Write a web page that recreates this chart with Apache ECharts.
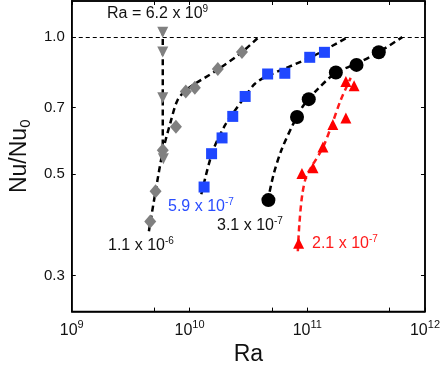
<!DOCTYPE html>
<html>
<head>
<meta charset="utf-8">
<style>
  html, body { margin: 0; padding: 0; background: #fff; }
  #chart { width: 443px; height: 371px; }
</style>
<script src="https://cdn.jsdelivr.net/npm/echarts@6/dist/echarts.min.js"></script>
</head>
<body>
<div id="chart"></div>
<script>
// measured points [Ra, Nu/Nu0]
const diamond = [[4.64e9, 0.394], [5.15e9, 0.459], [5.93e9, 0.565], [7.67e9, 0.636],
  [9.3e9, 0.760], [1.11e10, 0.774], [1.74e10, 0.851], [2.79e10, 0.927]];
const triDown = [[5.93e9, 1.025], [5.93e9, 0.927], [5.93e9, 0.736], [6.0e9, 0.541]];
const square = [[1.33e10, 0.469], [1.54e10, 0.555], [1.89e10, 0.601], [2.33e10, 0.670],
  [2.97e10, 0.741], [4.61e10, 0.830], [6.45e10, 0.833], [1.05e11, 0.903], [1.40e11, 0.926]];
const circle = [[4.68e10, 0.439], [8.19e10, 0.668], [1.03e11, 0.731], [1.75e11, 0.836],
  [2.62e11, 0.869], [4.05e11, 0.926]];
const triUp = [[8.45e10, 0.353], [9.02e10, 0.502], [1.12e11, 0.517], [1.36e11, 0.574],
  [1.65e11, 0.643], [2.13e11, 0.665], [2.13e11, 0.799], [2.50e11, 0.782]];

// dashed fit curves
const fitGray = [[4.52e9, 0.375], [5.18e9, 0.463], [5.93e9, 0.561], [6.92e9, 0.652],
  [7.93e9, 0.728], [9.62e9, 0.770], [1.72e10, 0.847], [2.79e10, 0.927], [3.87e10, 1.0]];
const fitVert = [[5.93e9, 1.04], [5.93e9, 0.54]];
const fitBlue = [[1.26e10, 0.452], [1.56e10, 0.558], [1.97e10, 0.636], [2.39e10, 0.686],
  [2.96e10, 0.740], [3.59e10, 0.790], [4.61e10, 0.822], [1.08e11, 0.904], [2.21e11, 1.0]];
const fitBlack = [[4.61e10, 0.436], [5.18e10, 0.500], [6.05e10, 0.566], [7.63e10, 0.646],
  [9.25e10, 0.707], [1.21e11, 0.766], [1.75e11, 0.835], [2.69e11, 0.877], [4.05e11, 0.927], [6.41e11, 1.0]];
const fitRed = [[8.32e10, 0.339], [8.57e10, 0.389], [9.08e10, 0.452], [9.82e10, 0.495],
  [1.145e11, 0.531], [1.36e11, 0.573], [1.62e11, 0.643], [1.93e11, 0.729], [2.34e11, 0.814]];

const yLabels = [0.3, 0.5, 0.7, 1.0];
const yTicks = [0.3, 0.5, 0.7, 1.0];
const xTicks = [1e9, 5e9, 1e10, 5e10, 1e11, 5e11, 1e12];

const font = 'Liberation Sans, Arial, sans-serif';
const chart = echarts.init(document.getElementById('chart'));

function dashLine(data, color) {
  return {
    type: 'line', data: data, smooth: 0.3, symbol: 'none', z: 2,
    lineStyle: { color: color, width: 2.5, type: [6, 4] }
  };
}
function marks(data, symbol, size, color, rotate) {
  return {
    type: 'scatter', data: data, symbol: symbol, symbolSize: size, symbolRotate: rotate || 0,
    itemStyle: { color: color, opacity: 1 }, z: 3
  };
}

// annotation text with a superscript exponent
function note(txt, exp, x, y, color) {
  return {
    type: 'text', left: x, top: y, z: 10,
    style: {
      text: '{b|' + txt + '}{s|' + exp + '}',
      rich: {
        b: { fontSize: 16, fontFamily: font, fill: color },
        s: { fontSize: 10, fontFamily: font, fill: color, padding: [0, 0, 10, 0] }
      }
    }
  };
}

const axisCommon = {
  type: 'log', logBase: 10, splitLine: { show: false },
  axisLine: { show: true, onZero: false, lineStyle: { color: '#000', width: 1.5 } }
};

chart.setOption({
  animation: false,
  grid: { left: 68, right: 18, top: 1, bottom: 58, show: true, borderColor: '#000', borderWidth: 1.5 },
  xAxis: [
    Object.assign({}, axisCommon, {
      min: 1e9, max: 1e12, position: 'bottom',
      name: 'Ra', nameLocation: 'middle', nameGap: 31,
      nameTextStyle: { fontSize: 23, fontFamily: font, color: '#111' },
      axisTick: { inside: true, length: 4, customValues: xTicks, lineStyle: { color: '#000' } },
      axisLabel: {
        margin: 8, color: '#111', fontSize: 16, fontFamily: font,
        formatter: function (v) { return '{b|10}{s|' + Math.round(Math.log10(v)) + '}'; },
        rich: {
          b: { fontSize: 16, fontFamily: font, color: '#111' },
          s: { fontSize: 11, fontFamily: font, color: '#111', padding: [0, 0, 10, 0] }
        }
      }
    }),
    Object.assign({}, axisCommon, {
      min: 1e9, max: 1e12, position: 'top',
      axisTick: { inside: true, length: 4, customValues: xTicks, lineStyle: { color: '#000' } },
      axisLabel: { show: false }
    })
  ],
  yAxis: [
    Object.assign({}, axisCommon, {
      min: 0.25, max: 1.2, position: 'left',
      name: 'Nu/Nu{sub|0}', nameLocation: 'middle', nameGap: 37,
      nameTextStyle: {
        fontSize: 23, fontFamily: font, color: '#111',
        rich: { sub: { fontSize: 15, fontFamily: font, color: '#111', padding: [12, 0, 0, 0] } }
      },
      axisTick: { inside: true, length: 4, customValues: yTicks, lineStyle: { color: '#000' } },
      axisLabel: {
        customValues: yLabels, margin: 7, fontSize: 15, fontFamily: font, color: '#111',
        formatter: function (v) { return v.toFixed(1); }
      }
    }),
    Object.assign({}, axisCommon, {
      min: 0.25, max: 1.2, position: 'right',
      axisTick: { inside: true, length: 4, customValues: yTicks, lineStyle: { color: '#000' } },
      axisLabel: { show: false }
    })
  ],
  series: [
    {
      type: 'line', data: [], markLine: {
        silent: true, symbol: 'none', label: { show: false },
        lineStyle: { color: '#000', width: 1, type: [4, 3] },
        data: [{ yAxis: 1.0 }]
      }
    },
    dashLine(fitVert, '#000'),
    dashLine(fitGray, '#000'),
    dashLine(fitBlue, '#000'),
    dashLine(fitBlack, '#000'),
    dashLine(fitRed, '#ff1a1a'),
    marks(triDown, 'triangle', 11, '#808080', 180),
    marks(diamond, 'diamond', [12, 14], '#808080'),
    marks(square, 'rect', 11, '#1f47ff'),
    marks(circle, 'circle', 14, '#000'),
    marks(triUp, 'triangle', 11, '#ff0000')
  ],
  graphic: [
    note('Ra = 6.2 x 10', '9', 107, 4, '#111'),
    note('1.1 x 10', '-6', 108, 236, '#111'),
    note('5.9 x 10', '-7', 168, 197, '#2a4dff'),
    note('3.1 x 10', '-7', 217, 216, '#111'),
    note('2.1 x 10', '-7', 312, 234, '#ff1a1a')
  ]
});
</script>
</body>
</html>
